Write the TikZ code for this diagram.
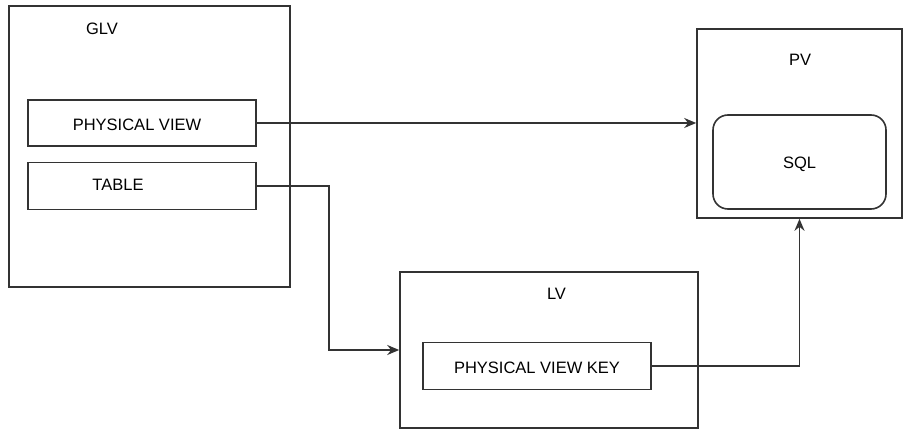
\documentclass[tikz,border=0pt]{standalone}
\usepackage{fontspec}
\setmainfont{Liberation Sans}
\usetikzlibrary{positioning,shapes}
\usetikzlibrary{arrows.meta}
\usetikzlibrary{calc}

\begin{document}
\begin{tikzpicture}[x=1pt,y=-1pt,
    outer/.style={rectangle, draw=black!80, line width=1.6pt, inner sep=0pt},
    inner/.style={rectangle, draw=black!80, line width=1.6pt, inner sep=0pt, text height=15.5pt, font=\fontsize{16.5}{19}\selectfont},
    title/.style={font=\fontsize{16.5}{19}\selectfont},
    link/.style={line width=1.8pt, draw=black!80, -{Stealth[length=12pt,width=10pt]}}]
    \useasboundingbox (0,0) rectangle (913,438);

    % Define containers
    \node[outer, minimum width=281pt, minimum height=281pt] (GLV) at (149.5,146.5) {};
    \node[outer, minimum width=205pt, minimum height=189pt] (PV) at (799.5,123.5) {};
    \node[outer, minimum width=298pt, minimum height=156pt] (LV) at (549,350) {};

    % Container titles
    \node[title] (glvtitle) at (102,28.5) {GLV};
    \node[title] (pvtitle) at (800,60) {PV};
    \node[title] (lvtitle) at (556.5,294) {LV};

    % Inner boxes
    \node[inner, minimum width=228pt, minimum height=46pt] (pview) at (142,123) {\hspace{-10pt}PHYSICAL VIEW};
    \node[inner, minimum width=228pt, minimum height=47pt,
          label={[font=\fontsize{16.5}{19}\selectfont, xshift=-24pt, yshift=1pt]center:TABLE}] (table) at (142,186) {};
    \node[inner, rounded corners=15pt, minimum width=173pt, minimum height=94pt] (sql) at (799.5,162) {SQL};
    \node[inner, minimum width=228pt, minimum height=47pt] (pvk) at (537,366) {PHYSICAL VIEW KEY};

    % Draw connections
    \draw[link] (pview.east) -- (pview.east -| PV.west); % to PV
    \draw[link] (table.east) -- ++(72,0) |- (LV.west); % to LV
    \draw[link] (pvk.east) -| (PV.south); % up to PV
\end{tikzpicture}
\end{document}
